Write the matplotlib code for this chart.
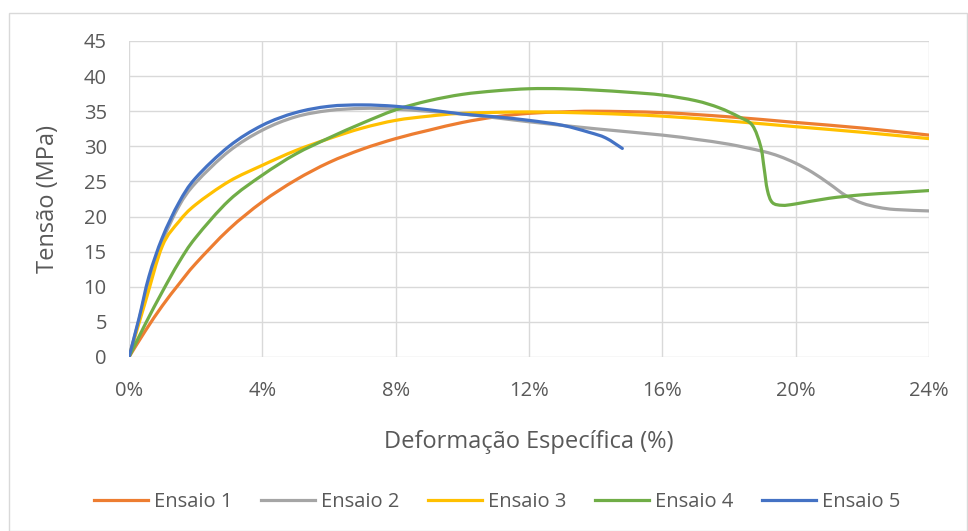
import numpy as np
import matplotlib.pyplot as plt
from matplotlib.patches import Rectangle, PathPatch
from matplotlib.path import Path
from matplotlib.lines import Line2D

plt.rcParams['font.family'] = ['Open Sans', 'DejaVu Sans']

# strain (%) and stress (MPa) for each test
x1 = [0, 0.5, 1.0, 1.5, 2.0, 3.0, 4.0, 5.0, 6.0, 7.0, 8.0, 9.0, 10.0, 11.0, 12.0, 13.0, 14.0, 16.0, 18.0, 20.0, 22.0, 24.0]
y1 = [0, 3.8, 7.3, 10.4, 13.3, 18.2, 22.1, 25.2, 27.7, 29.6, 31.1, 32.3, 33.4, 34.2, 34.7, 34.9, 35.0, 34.8, 34.2, 33.4, 32.6, 31.6]

x2 = [0, 0.3, 0.6, 1.0, 1.5, 2.0, 3.0, 4.0, 5.0, 6.0, 7.0, 8.0, 10.0, 12.0, 14.0, 16.0, 17.0, 18.0, 19.0, 19.5,
      20.0, 20.5, 21.0, 21.5, 22.0, 22.5, 23.0, 24.0]
y2 = [0, 5.3, 11.0, 16.5, 21.5, 24.8, 29.3, 32.3, 34.2, 35.1, 35.4, 35.3, 34.6, 33.5, 32.5, 31.6, 31.0, 30.3, 29.3, 28.6,
      27.6, 26.3, 24.7, 23.0, 21.9, 21.3, 21.0, 20.8]

x3 = [0, 0.5, 1.0, 1.5, 2.0, 3.0, 4.0, 5.0, 6.0, 7.0, 8.0, 9.0, 10.0, 12.0, 14.0, 16.0, 18.0, 20.0, 22.0, 24.0]
y3 = [0, 8.0, 15.8, 19.3, 21.7, 25.0, 27.3, 29.4, 31.1, 32.6, 33.7, 34.3, 34.7, 34.9, 34.7, 34.3, 33.6, 32.8, 32.0, 31.1]

x4 = [0, 0.5, 1.0, 1.5, 2.0, 3.0, 4.0, 5.0, 6.0, 7.0, 8.0, 9.0, 10.0, 11.0, 12.0, 13.0, 14.0, 15.0, 16.0, 17.0,
      17.7, 18.3, 18.7, 18.95, 19.05, 19.15, 19.3, 19.6, 20.0, 21.0, 22.0, 23.0, 24.0]
y4 = [0, 4.8, 9.3, 13.5, 17.0, 22.3, 25.9, 28.9, 31.2, 33.3, 35.2, 36.5, 37.4, 37.9, 38.2, 38.2, 38.0, 37.7, 37.3, 36.5,
      35.5, 34.2, 33.0, 30.0, 27.0, 23.8, 22.0, 21.6, 21.8, 22.6, 23.1, 23.4, 23.7]

x5 = [0, 0.3, 0.6, 1.0, 1.5, 2.0, 3.0, 4.0, 5.0, 6.0, 7.0, 8.0, 9.0, 10.0, 11.0, 12.0, 13.0, 13.8, 14.3, 14.8]
y5 = [0, 5.5, 11.5, 17.0, 22.0, 25.5, 30.0, 33.0, 34.8, 35.7, 35.9, 35.7, 35.2, 34.6, 34.2, 33.7, 33.0, 32.0, 31.2, 29.7]

series = [
    ('Ensaio 1', x1, y1, '#ED7D31'),
    ('Ensaio 2', x2, y2, '#A5A5A5'),
    ('Ensaio 3', x3, y3, '#FFC000'),
    ('Ensaio 4', x4, y4, '#70AD47'),
    ('Ensaio 5', x5, y5, '#4472C4'),
]


def smooth_path(xs, ys):
    # smoothed line through the points (cubic bezier segments, like a spreadsheet "smooth line")
    p = np.column_stack([xs, ys]).astype(float)
    n = len(p)
    verts = [p[0]]
    codes = [Path.MOVETO]
    for i in range(n - 1):
        p0 = p[i - 1] if i > 0 else p[i]
        p3 = p[i + 2] if i + 2 < n else p[i + 1]
        c1 = p[i] + (p[i + 1] - p0) / 6
        c2 = p[i + 1] - (p3 - p[i]) / 6
        verts += [c1, c2, p[i + 1]]
        codes += [Path.CURVE4] * 3
    return Path(verts, codes)


fig = plt.figure(figsize=(9.68, 5.31), dpi=100)
ax = fig.add_axes([129 / 968, 1 - 357 / 531, 800 / 968, 316 / 531])

handles = []
for name, xs, ys, color in series:
    ax.add_patch(PathPatch(smooth_path(xs, ys), fill=False, edgecolor=color, lw=2.3,
                           capstyle='round', joinstyle='round'))
    handles.append(Line2D([], [], color=color, lw=2.3, label=name))

ax.set_xlim(0, 24)
ax.set_ylim(0, 45)
ax.set_xticks(range(0, 25, 4))
ax.set_xticklabels([f'{v}%' for v in range(0, 25, 4)])
ax.set_yticks(range(0, 46, 5))
ax.grid(True, color='#D9D9D9', lw=1)
ax.set_axisbelow(True)
for s in ax.spines.values():
    s.set_visible(False)
ax.tick_params(length=0, labelsize=14.5, colors='#595959')
ax.tick_params(axis='x', pad=17)
ax.tick_params(axis='y', pad=16)

ax.set_ylabel('Tensão (MPa)', fontsize=17, color='#595959', labelpad=17)
ax.set_xlabel('Deformação Específica (%)', fontsize=17, color='#595959', labelpad=21)

ax.legend(handles=handles, loc='upper center', bbox_to_anchor=(0.46, -0.37), ncol=5, frameon=False,
          fontsize=14.5, labelcolor='#595959', handlelength=2.7, handletextpad=0.3, columnspacing=1.4)

# chart border
fig.patches.append(Rectangle((9 / 968, 0.5 / 531), 958 / 968, 518 / 531, transform=fig.transFigure,
                             fill=False, edgecolor='#D9D9D9', lw=1))

fig.savefig('out.png', dpi=100)
